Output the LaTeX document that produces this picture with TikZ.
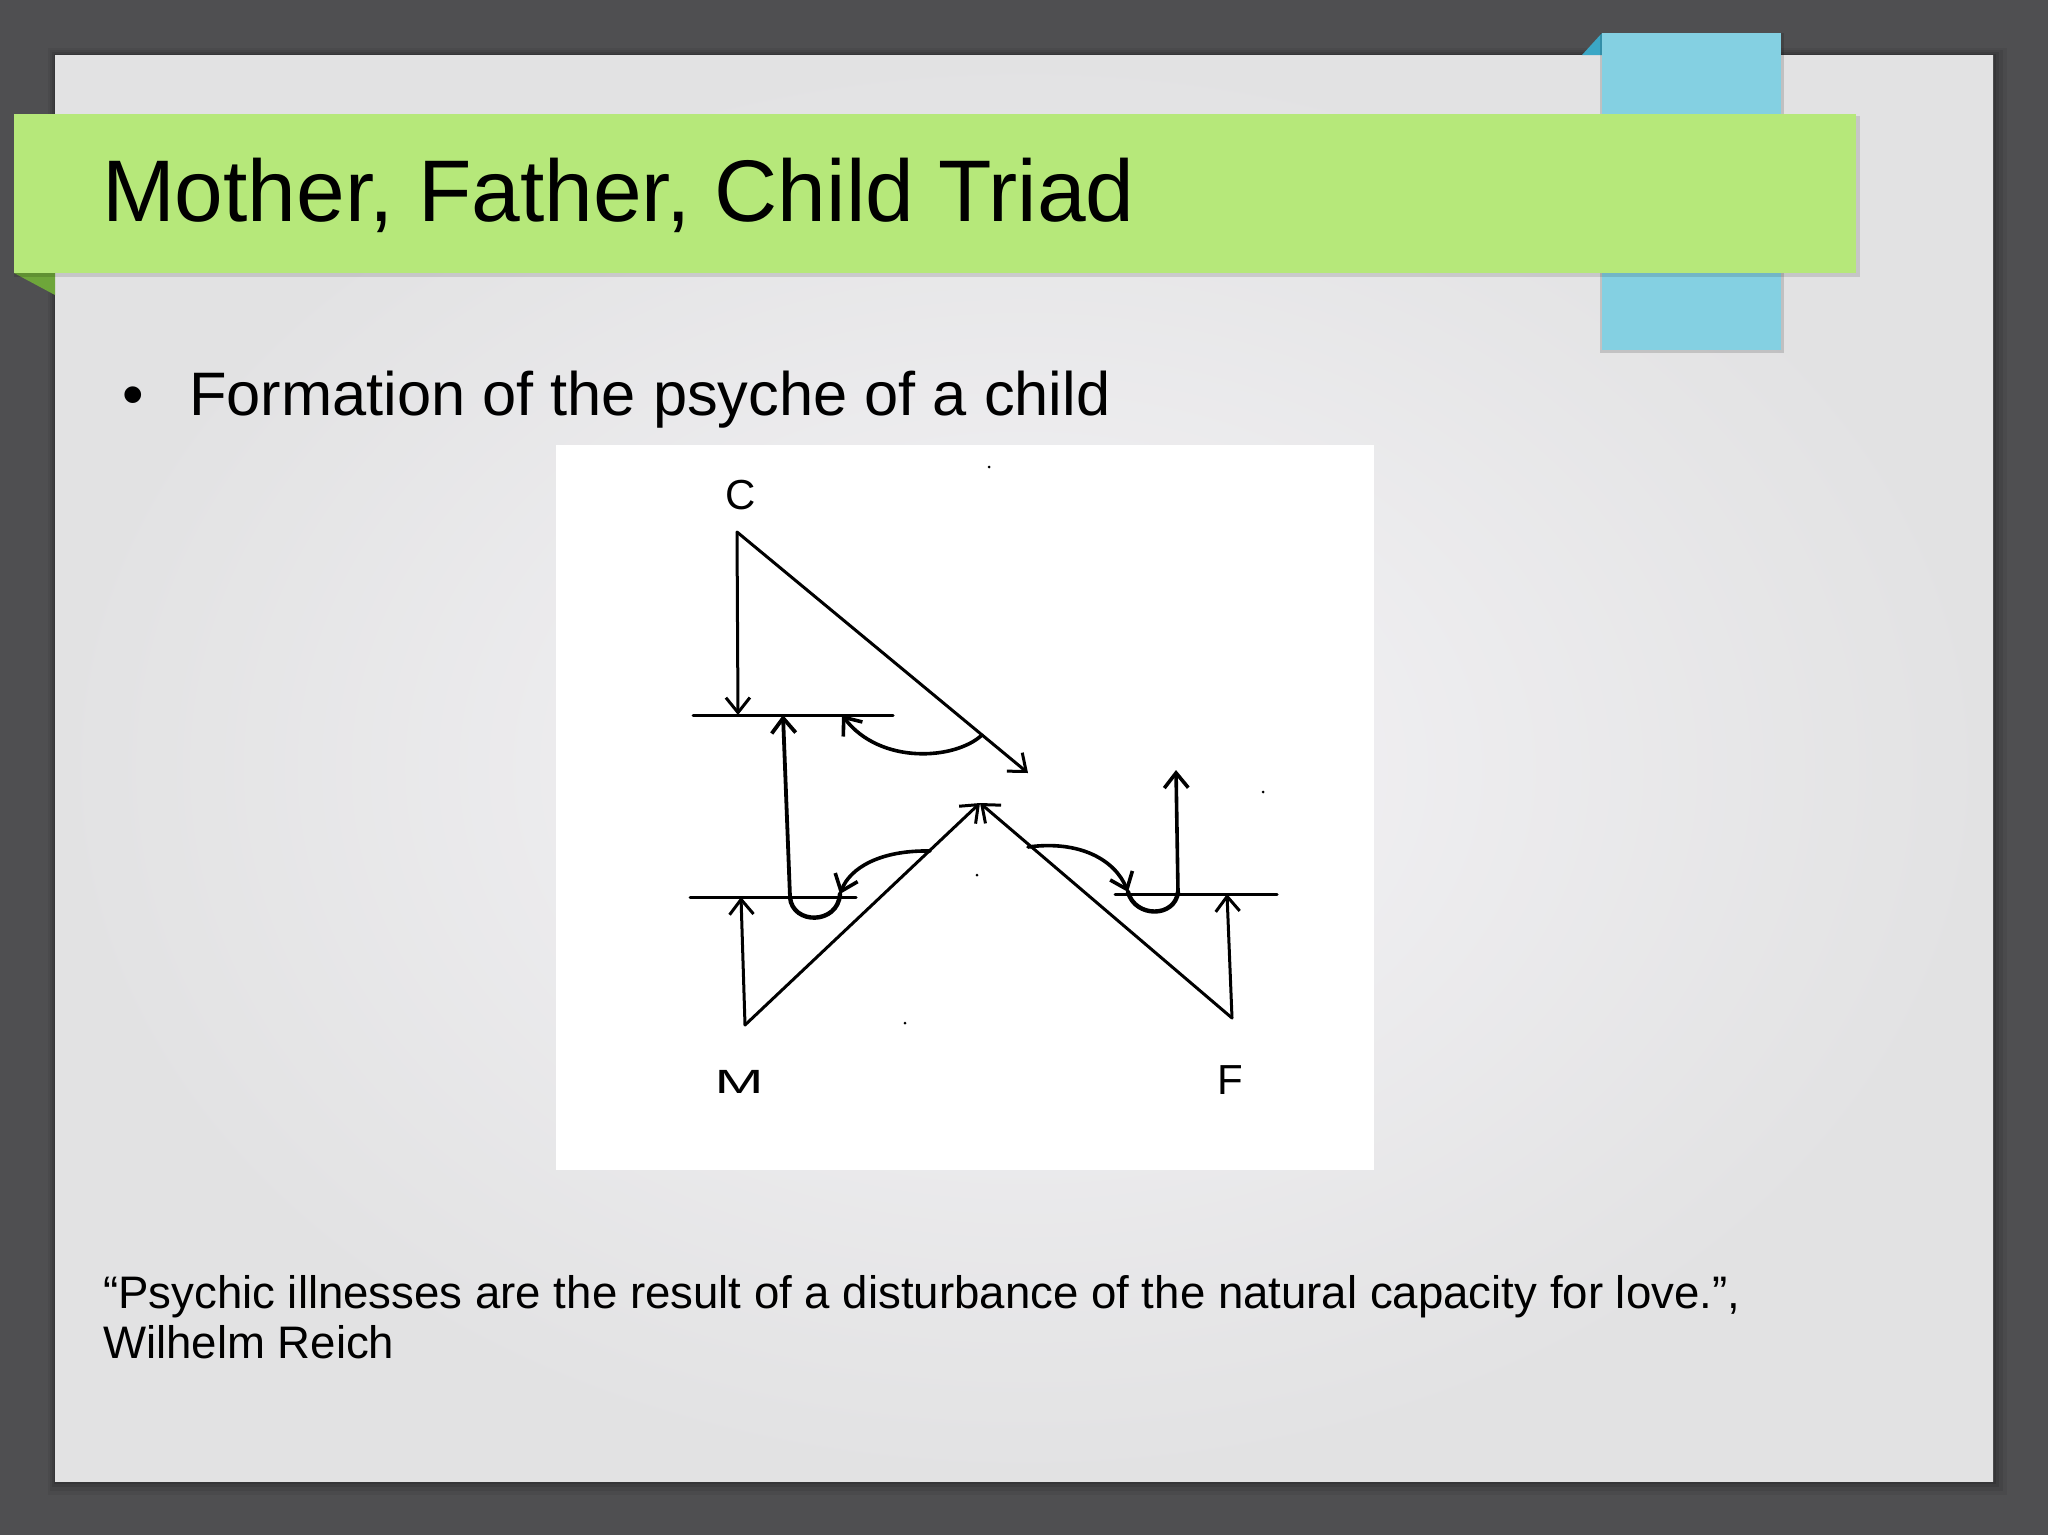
\documentclass[tikz,border=0pt]{standalone}
\usepackage{fontspec}
\setmainfont{Liberation Sans}
\usetikzlibrary{arrows.meta}
\definecolor{bgdark}{HTML}{4F4F51}
\definecolor{slidein}{HTML}{F5F4F7}
\definecolor{slideout}{HTML}{E2E2E3}
\definecolor{bannergreen}{HTML}{B6E87A}
\definecolor{folddarkgreen}{HTML}{6EA63A}
\definecolor{tabblue}{HTML}{84D0E2}
\definecolor{folddarkblue}{HTML}{3BA7C6}
\tikzset{
  txt/.style={inner sep=0pt, outer sep=0pt, anchor=base west, text=black},
  pen/.style={line width=3pt, black, line cap=round, line join=round},
  thickpen/.style={line width=4.4pt, black, line cap=round},
  barb/.style={-{Straight Barb[length=15pt,width=24pt]}},
  lbl/.style={inner sep=0pt, text=black, font=\fontsize{42}{44}\selectfont},
  speck/.style={fill=black}
}
\begin{document}
\begin{tikzpicture}[x=1pt,y=-1pt]
\useasboundingbox (0,0) rectangle (2048,1535);
% background
\fill[bgdark] (0,0) rectangle (2048,1535);
% slide shadow
\foreach \o/\a in {14/0.05,10/0.07,6/0.09,3/0.12}{
  \fill[black, opacity=\a] (55-\o/2,55-\o/2) rectangle (1993+\o,1481+\o);
}
% slide
\shade[inner color=slidein, outer color=slideout] (55,55) rectangle (1993,1481);
% blue tab with fold
\fill[folddarkblue] (1582,55) -- (1602,33) -- (1602,55) -- cycle;
\fill[black, opacity=0.15] (1600,33) rectangle (1784,353);
\fill[tabblue] (1602,33) rectangle (1781,350);
% green banner with fold
\fill[folddarkgreen] (14,273) -- (55,273) -- (55,295) -- cycle;
\fill[black, opacity=0.12] (14,116) rectangle (1860,277);
\fill[bannergreen] (14,114) rectangle (1856,273);
% texts
\node[txt, font=\fontsize{87.5}{100}\selectfont] (title) at (102,221) {Mother, Father, Child Triad};
\node[txt, font=\fontsize{61.4}{70}\selectfont] (bullet) at (122,415) {•};
\node[txt, font=\fontsize{61.4}{70}\selectfont] (point) at (189,415) {Formation of the psyche of a child};
\node[txt, font=\fontsize{45.6}{50}\selectfont] (q1) at (103,1308) {“Psychic illnesses are the result of a disturbance of the natural capacity for love.”,};
\node[txt, font=\fontsize{45.6}{50}\selectfont] (q2) at (103,1358) {Wilhelm Reich};
% picture panel
\fill[white] (556,445) rectangle (1374,1170);
% key points of the triad
\coordinate (Cc) at (737,532);
\coordinate (Mc) at (745,1025);
\coordinate (Fc) at (1232,1018);
\coordinate (apex) at (980,803);
\coordinate (Cend) at (1028,773);
\coordinate (Cdown) at (738,715);
\coordinate (TLa) at (693,715);
\coordinate (TLb) at (893,715);
\coordinate (LLa) at (690,897);
\coordinate (LLb) at (856,897);
\coordinate (RLa) at (1115,894);
\coordinate (RLb) at (1277,894);
\coordinate (Mup) at (741,897);
\coordinate (Fup) at (1227,894);
\coordinate (Vtop) at (783,715);
\coordinate (Vbot) at (790,897);
\coordinate (Ul) at (840,894);
\coordinate (Ur) at (1128,892);
\coordinate (Urr) at (1178,892);
\coordinate (Rtop) at (1176,770);
\coordinate (arcTa) at (982,735);
\coordinate (arcTb) at (842,715);
\coordinate (arcLa) at (930,851);
\coordinate (arcRa) at (1028,847);
% labels
\node[lbl] (C) at (741,495) {C};
\node[lbl, xscale=1.4, yscale=0.8, transform shape] (M) at (739,1082) {M};
\node[lbl] (F) at (1230,1080) {F};
% lines
\draw[pen] (TLa) -- (TLb);
\draw[pen] (LLa) -- (LLb);
\draw[pen] (RLa) -- (RLb);
\draw[pen, barb] (Cc) -- (Cdown);
\draw[pen, barb] (Cc) -- (Cend);
\draw[pen, barb] (Mc) -- (Mup);
\draw[pen, barb] (Mc) -- (apex);
\draw[pen, barb] (Fc) -- (apex);
\draw[pen, barb] (Fc) -- (Fup);
\draw[pen, line width=3.8pt, barb] (Vbot) -- (Vtop);
\draw[pen, line width=3.6pt, barb] (arcTa) .. controls (955,760) and (880,765) .. (arcTb);
\draw[pen, line width=3.6pt, barb] (arcLa) .. controls (880,850) and (850,868) .. (Ul);
\draw[thickpen] (Vbot) .. controls (792,925) and (838,925) .. (Ul);
\draw[pen, line width=3.6pt, barb] (arcRa) .. controls (1080,840) and (1115,860) .. (Ur);
\draw[thickpen] (Ur) .. controls (1135,918) and (1175,918) .. (Urr);
\draw[pen, line width=3.6pt, barb] (Urr) -- (Rtop);
% specks
\fill[speck] (989,467) circle (1.5);
\fill[speck] (1263,792) circle (1.5);
\fill[speck] (977,875) circle (1.5);
\fill[speck] (905,1023) circle (1.5);
\end{tikzpicture}
\end{document}
